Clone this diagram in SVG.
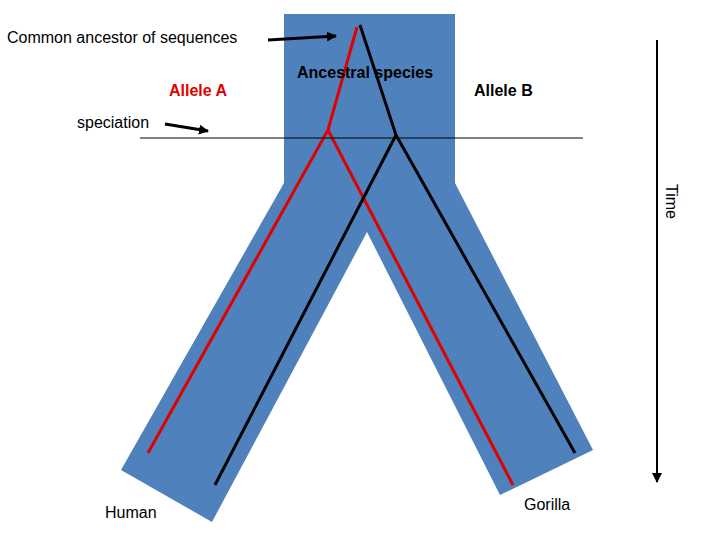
<svg xmlns="http://www.w3.org/2000/svg" width="720" height="540" viewBox="0 0 720 540">
<defs>
<marker id="ah" markerWidth="10" markerHeight="10" refX="9" refY="5" orient="auto" markerUnits="userSpaceOnUse"><path d="M0,0 L10,5 L0,10 z" fill="#000"/></marker>
<style>text{font-family:"Liberation Sans",Arial,sans-serif;font-size:16px}.b{font-weight:bold}.red{stroke:#e00000;stroke-width:3;fill:none}.blk{stroke:#000;stroke-width:3;fill:none}</style>
</defs>
<rect width="720" height="540" fill="#fff"/>
<g id="species">
<polygon points="284,14 455,14 455,183 593,450 500,495 367,232 212,522 121,470 284,183" fill="#4f81bd"/>
</g>
<g id="connectors">
<polyline class="red" points="357,27 328,130 148,453"/>
<line class="red" x1="328" y1="130" x2="513" y2="485"/>
<polyline class="blk" points="360,25 396,135 215,485"/>
<line class="blk" x1="396" y1="135" x2="575" y2="453"/>
<line x1="140" y1="138" x2="583" y2="138" stroke="#000" stroke-width="1"/>
<line x1="268" y1="40" x2="336" y2="36" stroke="#000" stroke-width="3" marker-end="url(#ah)"/>
<line x1="165" y1="124" x2="208" y2="131" stroke="#000" stroke-width="3" marker-end="url(#ah)"/>
<line x1="657" y1="40" x2="657" y2="482" stroke="#000" stroke-width="2" marker-end="url(#ah)"/>
</g>
<g id="labels">
<text x="7" y="43">Common ancestor of sequences</text>
<text x="169" y="96" class="b" fill="#e00000">Allele A</text>
<text x="297" y="78" class="b">Ancestral species</text>
<text x="474" y="96" class="b">Allele B</text>
<text x="77" y="128">speciation</text>
<text x="105" y="518">Human</text>
<text x="524" y="510">Gorilla</text>
<text transform="translate(666,184) rotate(90)">Time</text>
</g>
</svg>
